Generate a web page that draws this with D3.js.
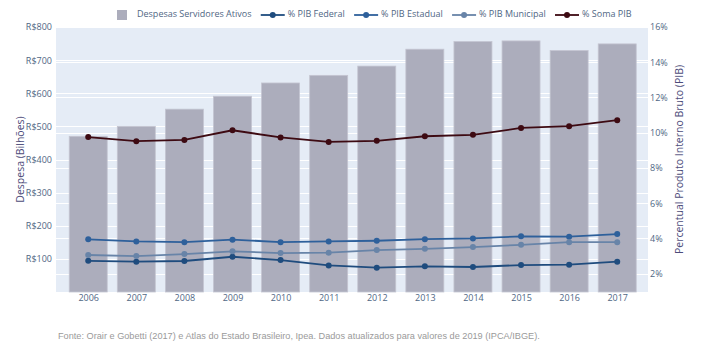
<!DOCTYPE html>
<html>
<head>
<meta charset="utf-8">
<script src="https://cdn.jsdelivr.net/npm/d3@7"></script>
<style>
  html, body { margin: 0; padding: 0; background: #fff; }
  svg { display: block; }
  text { font-family: "Open Sans", sans-serif; }
</style>
</head>
<body>
<svg id="chart" width="710" height="355"></svg>
<script>
const years = [2006, 2007, 2008, 2009, 2010, 2011, 2012, 2013, 2014, 2015, 2016, 2017];
const despesas = [470, 500, 552, 591, 631, 654, 682, 733, 756, 758, 729, 749];
const pibFederal = [2.73, 2.68, 2.72, 2.96, 2.77, 2.47, 2.34, 2.42, 2.38, 2.49, 2.51, 2.68];
const pibEstadual = [3.95, 3.83, 3.79, 3.93, 3.79, 3.83, 3.87, 3.96, 4.00, 4.12, 4.10, 4.25];
const pibMunicipal = [3.06, 3.00, 3.11, 3.27, 3.17, 3.19, 3.34, 3.41, 3.51, 3.64, 3.79, 3.79];
const pibSoma = [9.75, 9.52, 9.59, 10.14, 9.73, 9.48, 9.54, 9.80, 9.88, 10.27, 10.37, 10.71];
const leftTicks = [100, 200, 300, 400, 500, 600, 700, 800];
const rightTicks = [2, 4, 6, 8, 10, 12, 14, 16];
const seriesNames = ["Despesas Servidores Ativos", "% PIB Federal", "% PIB Estadual", "% PIB Municipal", "% Soma PIB"];
const leftTitle = "Despesa (Bilhões)";
const rightTitle = "Percentual Produto Interno Bruto (PIB)";
const footnote = "Fonte: Orair e Gobetti (2017) e Atlas do Estado Brasileiro, Ipea. Dados atualizados para valores de 2019 (IPCA/IBGE).";

const W = 710, H = 355;
const plot = { left: 56, right: 648, top: 27, bottom: 292 };
const svg = d3.select("#chart");

const x = d3.scaleLinear().domain([2005.33, 2017.64]).range([plot.left, plot.right]);
const yL = d3.scaleLinear().domain([0, 800]).range([plot.bottom, plot.top]);
const yR = d3.scaleLinear().domain([0.96, 16]).range([plot.bottom, plot.top]);

const tickColor = "#506784";
const titleColor = "#4d4c7a";
const barFill = "#acadbc";
const barStroke = "#c4c5d1";
const lineSeries = [
  { name: seriesNames[1], values: pibFederal, color: "#1f4c7e" },
  { name: seriesNames[2], values: pibEstadual, color: "#2e609b" },
  { name: seriesNames[3], values: pibMunicipal, color: "#6884a8" },
  { name: seriesNames[4], values: pibSoma, color: "#3d0a12" }
];

// background
svg.append("rect").attr("x", plot.left).attr("y", plot.top)
  .attr("width", plot.right - plot.left).attr("height", plot.bottom - plot.top)
  .attr("fill", "#e5ecf6");

// gridlines
const grid = svg.append("g").attr("stroke", "#ffffff").attr("stroke-width", 1);
grid.selectAll("line.gl").data(leftTicks).join("line")
  .attr("x1", plot.left).attr("x2", plot.right)
  .attr("y1", d => Math.round(yL(d)) + 0.5).attr("y2", d => Math.round(yL(d)) + 0.5);
grid.selectAll("line.gr").data(rightTicks).join("line")
  .attr("x1", plot.left).attr("x2", plot.right)
  .attr("y1", d => Math.round(yR(d)) + 0.5).attr("y2", d => Math.round(yR(d)) + 0.5);

// bars
const halfW = 0.395;
svg.append("g").selectAll("rect").data(years).join("rect")
  .attr("x", (d) => x(d - halfW))
  .attr("width", (d) => x(d + halfW) - x(d - halfW))
  .attr("y", (d, i) => yL(despesas[i]))
  .attr("height", (d, i) => yL(0) - yL(despesas[i]))
  .attr("fill", barFill).attr("stroke", barStroke).attr("stroke-width", 0.8);

// lines
lineSeries.forEach(s => {
  const g = svg.append("g");
  const line = d3.line().x((d, i) => x(years[i])).y(d => yR(d));
  g.append("path").datum(s.values).attr("d", line)
    .attr("fill", "none").attr("stroke", s.color).attr("stroke-width", 1.8)
    .attr("stroke-linejoin", "round");
  g.selectAll("circle").data(s.values).join("circle")
    .attr("cx", (d, i) => x(years[i])).attr("cy", d => yR(d)).attr("r", 3)
    .attr("fill", s.color);
});

// axes
const axL = d3.axisLeft(yL).tickValues(leftTicks).tickSize(0).tickPadding(3)
  .tickFormat(d => "R$" + d);
const gL = svg.append("g").attr("transform", `translate(${plot.left - 1},0)`).call(axL);
const axR = d3.axisRight(yR).tickValues(rightTicks).tickSize(0).tickPadding(3)
  .tickFormat(d => d + "%");
const gR = svg.append("g").attr("transform", `translate(${plot.right - 1},0)`).call(axR);
const axB = d3.axisBottom(x).tickValues(years).tickSize(0).tickPadding(3)
  .tickFormat(d3.format("d"));
const gB = svg.append("g").attr("transform", `translate(0,${plot.bottom})`).call(axB);
[gL, gR, gB].forEach(g => {
  g.select(".domain").remove();
  g.selectAll("text").attr("fill", tickColor).style("font-size", "9px")
    .style("font-family", "'Open Sans', sans-serif");
});

// axis titles
svg.append("text").attr("transform", `translate(21,${(plot.top + plot.bottom) / 2}) rotate(-90)`)
  .attr("text-anchor", "middle").attr("dominant-baseline", "middle")
  .attr("fill", titleColor).style("font-size", "10.5px").text(leftTitle);
svg.append("text").attr("transform", `translate(680,${(plot.top + plot.bottom) / 2}) rotate(-90)`)
  .attr("text-anchor", "middle").attr("dominant-baseline", "middle")
  .attr("fill", titleColor).style("font-size", "10.5px").text(rightTitle);

// legend
const legend = svg.append("g");
let cursor = 110;
const ly = 15;
seriesNames.forEach((name, i) => {
  const g = legend.append("g");
  if (i === 0) {
    g.append("rect").attr("x", cursor + 7).attr("y", ly - 5).attr("width", 10).attr("height", 10)
      .attr("fill", barFill);
  } else {
    const s = lineSeries[i - 1];
    g.append("line").attr("x1", cursor).attr("x2", cursor + 24).attr("y1", ly).attr("y2", ly)
      .attr("stroke", s.color).attr("stroke-width", 1.8);
    g.append("circle").attr("cx", cursor + 12).attr("cy", ly).attr("r", 3).attr("fill", s.color);
  }
  const t = g.append("text").attr("x", cursor + 27).attr("y", ly)
    .attr("dominant-baseline", "middle").attr("fill", tickColor)
    .style("font-size", "9px").text(name);
  cursor = cursor + 27 + t.node().getComputedTextLength() + 9.3;
});

// footnote
const fn = svg.append("text").attr("x", 58).attr("y", 337)
  .attr("dominant-baseline", "middle").attr("fill", "#9a9a9a")
  .style("font-family", "'Liberation Sans', Arial, sans-serif").style("font-size", "9px")
  .text(footnote);
const targetW = 482;
const curW = fn.node().getComputedTextLength();
fn.style("font-size", (9 * targetW / curW).toFixed(2) + "px");
</script>
</body>
</html>
